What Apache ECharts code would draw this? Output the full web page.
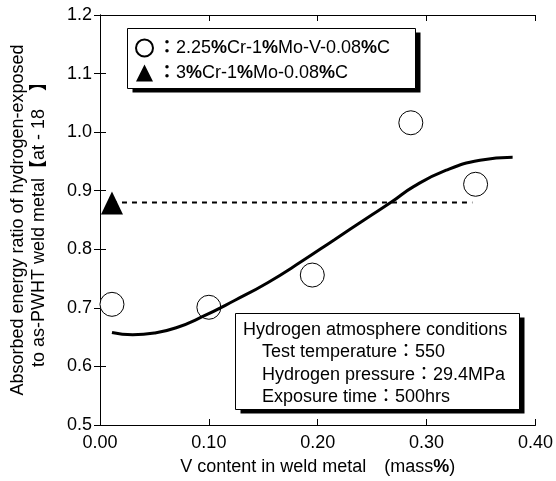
<!DOCTYPE html>
<html>
<head>
<meta charset="utf-8">
<script src="https://cdn.jsdelivr.net/npm/echarts@6/dist/echarts.min.js"></script>
<style>
  html, body { margin: 0; padding: 0; background: #fff; }
  #main { width: 556px; height: 481px; }
</style>
</head>
<body>
<div id="main"></div>
<script>
// Measured points (V content mass%, absorbed energy ratio)
var crMoVPoints = [[0.011, 0.706], [0.100, 0.701], [0.195, 0.756], [0.2855, 1.016], [0.345, 0.911]];
var crMoPoint = [[0.011, 0.879]];
var crMoLevel = [[0.011, 0.88], [0.342, 0.88]];

// fitted curve
var curveX = [0.011, 0.03, 0.05, 0.07, 0.093, 0.124, 0.154, 0.185, 0.215, 0.245, 0.268, 0.288, 0.318, 0.349, 0.379];
var curveY = [0.658, 0.654, 0.657, 0.666, 0.684, 0.713, 0.743, 0.779, 0.816, 0.853, 0.881, 0.907, 0.935, 0.952, 0.957];

var seriesNames = ['2.25%Cr-1%Mo-V-0.08%C', '3%Cr-1%Mo-0.08%C'];
var conditionLines = [
    'Hydrogen atmosphere conditions',
    'Test temperature：550',
    'Hydrogen pressure：29.4MPa',
    'Exposure time：500hrs'
];

var FONT = "'Liberation Sans', Arial, 'Noto Sans CJK JP', sans-serif";

var chart = echarts.init(document.getElementById('main'));

var curveData = curveX.map(function (x, i) { return [x, curveY[i]]; });

var tickStyle = { show: true, inside: true, length: 6, lineStyle: { color: '#000', width: 1 } };
var lineStyle = { show: true, lineStyle: { color: '#000', width: 1 } };

// framed box with a hard black drop shadow
function shadowBox(x, y, w, h) {
    return [{
        type: 'rect',
        z: 1,
        shape: { x: x + 5, y: y + 4, width: w, height: h },
        style: { fill: '#000' }
    }, {
        type: 'rect',
        z: 1,
        shape: { x: x, y: y, width: w, height: h },
        style: { fill: '#fff', stroke: '#000', lineWidth: 1 }
    }];
}

var graphics = shadowBox(127.5, 28.5, 288, 60).concat(shadowBox(235.5, 313.5, 284, 96));
conditionLines.forEach(function (t, i) {
    graphics.push({
        type: 'text',
        z: 2,
        x: i === 0 ? 243 : 262,
        y: 330 + i * 22.5,
        style: {
            text: t,
            fontSize: 18,
            fontFamily: FONT,
            fill: '#000',
            verticalAlign: 'middle'
        }
    });
});

option = {
    animation: false,
    backgroundColor: '#fff',
    textStyle: { fontFamily: FONT, color: '#000' },
    grid: { left: 98, right: 20, top: 15, bottom: 56 },
    legend: {
        orient: 'vertical',
        left: 127,
        top: 28,
        z: 5,
        padding: [10, 20, 5, 8],
        itemGap: 5,
        itemWidth: 17,
        itemHeight: 17,
        data: seriesNames,
        formatter: function (name) {
            return '{c|：}' + name.replace(/%/g, '{b|%}');
        },
        textStyle: {
            fontSize: 18,
            lineHeight: 20,
            color: '#000',
            fontFamily: FONT,
            rich: {
                c: { fontSize: 18, fontWeight: 'bold', fontFamily: FONT },
                b: { fontSize: 18, fontWeight: 'bold', fontFamily: FONT }
            }
        }
    },
    xAxis: [{
        type: 'value',
        min: 0,
        max: 0.4,
        interval: 0.1,
        name: 'V content in weld metal　(mass{b|%})',
        nameLocation: 'middle',
        nameGap: 33,
        nameTextStyle: {
            fontSize: 18, color: '#000', fontFamily: FONT,
            rich: { b: { fontSize: 18, fontWeight: 'bold', fontFamily: FONT } }
        },
        axisLine: lineStyle,
        axisTick: tickStyle,
        splitLine: { show: false },
        axisLabel: {
            fontSize: 18, color: '#000', margin: 9,
            formatter: function (v) { return v.toFixed(2); }
        }
    }, {
        type: 'value',
        position: 'top',
        min: 0,
        max: 0.4,
        interval: 0.1,
        axisLine: lineStyle,
        axisTick: tickStyle,
        axisLabel: { show: false },
        splitLine: { show: false }
    }],
    yAxis: [{
        type: 'value',
        min: 0.5,
        max: 1.2,
        interval: 0.1,
        name: 'Absorbed energy ratio of hydrogen-exposed\nto as-PWHT weld metal{k|【}at - 18　{k|】}',
        nameLocation: 'middle',
        nameRotate: 90,
        nameGap: 50,
        nameTextStyle: {
            fontSize: 18, lineHeight: 21, color: '#000', fontFamily: FONT,
            rich: { k: { fontSize: 18, fontWeight: 'bold', fontFamily: FONT } }
        },
        axisLine: lineStyle,
        axisTick: tickStyle,
        splitLine: { show: false },
        axisLabel: {
            fontSize: 18, color: '#000', margin: 8,
            formatter: function (v) { return v.toFixed(1); }
        }
    }, {
        type: 'value',
        position: 'right',
        min: 0.5,
        max: 1.2,
        interval: 0.1,
        axisLine: lineStyle,
        axisTick: tickStyle,
        axisLabel: { show: false },
        splitLine: { show: false }
    }],
    series: [
        {
            name: seriesNames[0],
            type: 'scatter',
            symbol: 'circle',
            symbolSize: 24,
            itemStyle: { color: '#fff', borderColor: '#000', borderWidth: 1, opacity: 1 },
            data: crMoVPoints
        },
        {
            name: 'level',
            type: 'line',
            showSymbol: false,
            lineStyle: { color: '#000', width: 2, type: [5, 5] },
            data: crMoLevel
        },
        {
            name: 'fit',
            type: 'line',
            smooth: true,
            showSymbol: false,
            lineStyle: { color: '#000', width: 3 },
            data: curveData
        },
        {
            name: seriesNames[1],
            type: 'scatter',
            symbol: 'triangle',
            symbolSize: [22, 23],
            itemStyle: { color: '#000', opacity: 1 },
            data: crMoPoint,
            z: 5
        }
    ],
    graphic: graphics
};

chart.setOption(option);
</script>
</body>
</html>
